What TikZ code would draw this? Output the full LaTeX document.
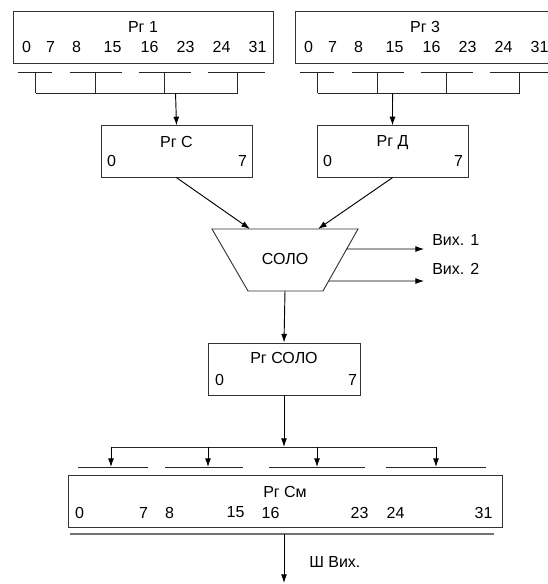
\documentclass[tikz,border=0pt]{standalone}
\usepackage{fontspec}
\setmainfont{Liberation Sans}
\usetikzlibrary{arrows.meta, positioning, calc}

\begin{document}
\begin{tikzpicture}[
  x=0.75pt, y=-0.75pt,
  font=\fontsize{12}{14}\selectfont,
  reg/.style={rectangle, draw=black!80, line width=0.7pt, inner sep=0pt, minimum height=38.5pt},
  txt/.style={inner sep=0pt, anchor=center},
  seg/.style={black!85, line width=0.7pt},
  arrow/.style={-{Latex[length=6.5pt, width=4.5pt]}, line width=0.7pt},
  bus/.style={black!55, line width=1.5pt}
]
  \useasboundingbox (0,0) rectangle (547,584);

  % input registers
  \node[reg, minimum width=195pt] (rg1) at (143,37.5) {};
  \node[reg, minimum width=195pt] (rg3) at (425,37.5) {};
  \node[txt] (rg1-name) at ($(rg1.north)+(0,16)$) {Рг 1};
  \node[txt] (rg3-name) at ($(rg3.north)+(0,16)$) {Рг 3};
  \foreach \d/\dx in {0/14, 7/38, 8/64, 15/100, 16/137, 23/173, 24/209, 31/245} {
    \node[txt] (rg1-\d) at ($(rg1.north west)+(\dx,36)$) {\d};
    \node[txt] (rg3-\d) at ($(rg3.north west)+(\dx,36)$) {\d};
  }

  % byte fields and collectors
  \foreach \r in {rg1, rg3} {
    \foreach \a/\b/\m in {5/39/23, 57/109/83, 126/178/152, 195/252/225} {
      \draw[seg] ($(\r.north west)+(\a,61)$) -- ($(\r.north west)+(\b,61)$);
      \draw[seg] ($(\r.north west)+(\m,61)$) -- ($(\r.north west)+(\m,82)$);
    }
    \draw[seg] ($(\r.north west)+(23,82)$) -- ($(\r.north west)+(225,82)$);
  }
  \draw[seg] ($(rg3.north west)+(252,61)$) -- ($(rg3.north west)+(262,61)$);
  \coordinate (col1) at ($(rg1.north west)+(163,82)$);
  \coordinate (col3) at ($(rg3.north west)+(98,82)$);

  % operand registers
  \node[reg, minimum width=113.25pt] (rgc) at (176.5,151.5) {};
  \node[reg, minimum width=113.25pt] (rgd) at (392.5,151.5) {};
  \node[txt] (rgc-name) at ($(rgc.north)+(0,17)$) {Рг С};
  \node[txt] (rgd-name) at ($(rgd.north)+(0,17)$) {Рг Д};
  \node[txt] (rgc-0) at ($(rgc.north west)+(11,36)$) {0};
  \node[txt] (rgc-7) at ($(rgc.north east)+(-10,36)$) {7};
  \node[txt] (rgd-0) at ($(rgd.north west)+(11,36)$) {0};
  \node[txt] (rgd-7) at ($(rgd.north east)+(-10,36)$) {7};

  \draw[arrow] (col1) -- (rgc.north);
  \draw[arrow] (col3) -- (rgd.north);

  % SOLO unit
  \coordinate (solo-tl) at (212,229);
  \coordinate (solo-tr) at (358,229);
  \coordinate (solo-br) at (323,291);
  \coordinate (solo-bl) at (248,291);
  \draw[reg] (solo-tl) -- (solo-tr) -- (solo-br) -- (solo-bl) -- cycle;
  \node[txt] (solo) at (285,259) {СОЛО};
  \coordinate (solo-inc) at (250,229);
  \coordinate (solo-ind) at (318,229);
  \coordinate (solo-bot) at (285,291);
  \draw[arrow] (rgc.south) -- (solo-inc);
  \draw[arrow] (rgd.south) -- (solo-ind);

  \coordinate (out1) at ($(solo-tr)!0.3226!(solo-br)$);
  \coordinate (out2) at ($(solo-tr)!0.839!(solo-br)$);
  \coordinate (out1-end) at (424,249);
  \coordinate (out2-end) at (424,281);
  \draw[arrow] (out1) -- (out1-end);
  \draw[arrow] (out2) -- (out2-end);
  \node[txt, anchor=west] (vyh1) at (432,240) {Вих. 1};
  \node[txt, anchor=west] (vyh2) at (432,269) {Вих. 2};

  % result of SOLO
  \node[reg, minimum width=114pt, minimum height=39pt] (rgsolo) at (284,369) {};
  \node[txt] (rgsolo-name) at ($(rgsolo.north)+(0,15)$) {Рг СОЛО};
  \node[txt] (rgsolo-0) at ($(rgsolo.north west)+(12,37)$) {0};
  \node[txt] (rgsolo-7) at ($(rgsolo.north east)+(-8,37)$) {7};
  \draw[arrow] (solo-bot) -- (rgsolo.north);

  % distribution to sum register
  \coordinate (branch) at (284,447);
  \draw[arrow] (rgsolo.south) -- (branch);
  \draw[seg] (111,447) -- (436,447);
  \foreach \x in {111, 208, 317, 436} {
    \coordinate (drop\x) at (\x,447);
    \coordinate (tip\x) at (\x,467);
    \draw[arrow] (drop\x) -- (tip\x);
  }
  \foreach \a/\b in {78/148, 165/243, 269/365, 386/486}
    \draw[seg] (\a,467) -- (\b,467);

  \node[reg, minimum width=325.5pt, minimum height=39pt] (rgsm) at (285,501) {};
  \node[txt] (rgsm-name) at ($(rgsm.north)+(0,17)$) {Рг См};
  \foreach \d/\dx in {0/12, 7/76, 8/102, 15/168, 16/203, 23/292, 24/328, 31/416}
    \node[txt] (rgsm-\d) at ($(rgsm.north west)+(\dx,38)$) {\d};

  % output bus
  \draw[bus] (70,534) -- (494,534);
  \coordinate (bus-top) at (284,534);
  \coordinate (bus-end) at (284,583);
  \draw[arrow] (bus-top) -- (bus-end);
  \node[txt, anchor=west] (shvyh) at (309,562) {Ш Вих.};
\end{tikzpicture}
\end{document}
